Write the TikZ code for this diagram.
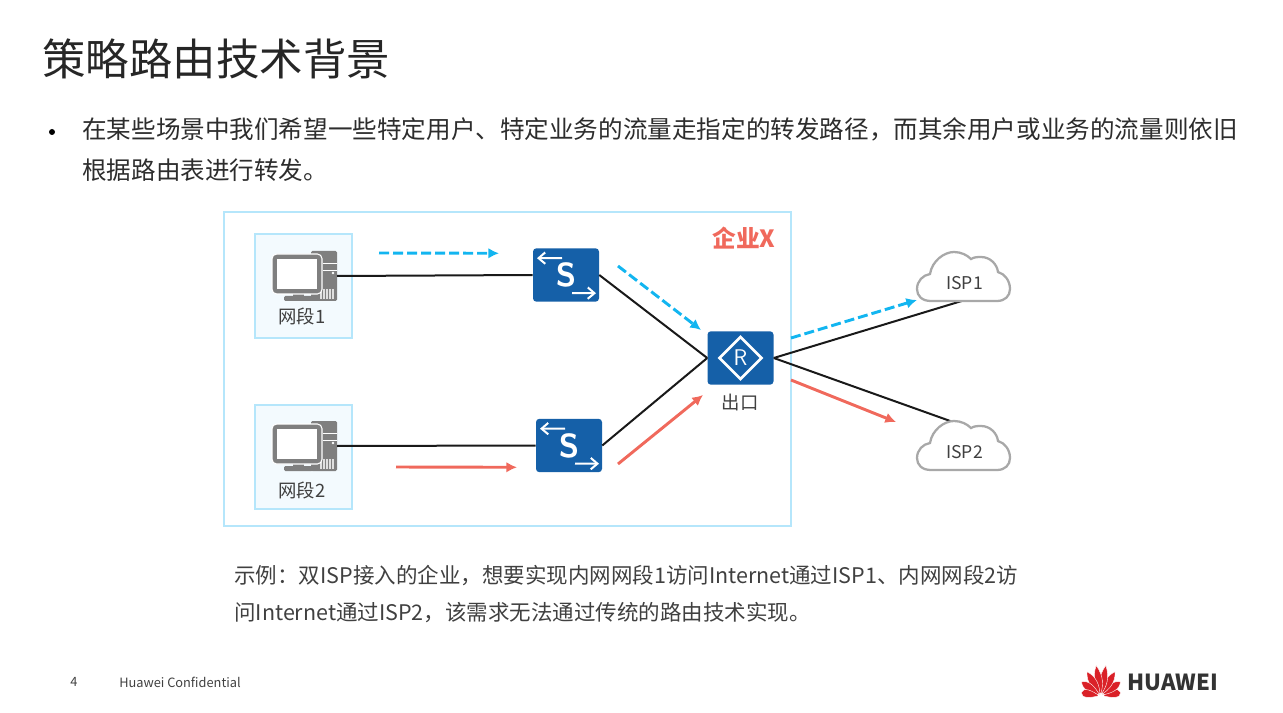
\documentclass[tikz,border=0pt]{standalone}
\usepackage{fontspec}
\setmainfont{Noto Sans CJK SC}
\usetikzlibrary{arrows.meta}
\definecolor{inkgray}{HTML}{404040}
\definecolor{boxblue}{HTML}{B5E6FB}
\definecolor{paleblue}{HTML}{F3FAFE}
\definecolor{devblue}{HTML}{1560A8}
\definecolor{flowblue}{HTML}{12B5F0}
\definecolor{flowred}{HTML}{F0695C}
\definecolor{pcgray}{HTML}{7F7F7F}
\definecolor{cloudgray}{HTML}{A8A8A8}
\definecolor{petalred}{HTML}{DA2128}
\tikzset{
  lbl/.style={text=inkgray,font=\fontsize{13.8}{15}\selectfont,inner sep=0pt},
  zone/.style={draw=boxblue,fill=paleblue,line width=1.1pt,minimum width=72.75pt,minimum height=78pt,inner sep=0pt},
  device/.style={fill=devblue,rounded corners=2.5pt,minimum width=49.5pt,minimum height=40pt,inner sep=0pt,text=white},
  wire/.style={black!90,line width=1.5pt},
  flowa/.style={flowblue,line width=2.2pt,dash pattern=on 7.5pt off 3pt,-{Latex[length=8pt,width=8pt]}},
  flowb/.style={flowred,line width=2.2pt,-{Latex[length=8pt,width=8pt]}},
  whitearrow/.style={white,line width=1.5pt,-{Straight Barb[length=5pt,width=8.5pt]}},
  pc/.pic={
    \fill[pcgray,rounded corners=1pt] (-26,-25) rectangle (0,25);
    \draw[white,line width=0.7pt] (-14,-13) -- (0,-13) (-14,-6) -- (0,-6);
    \fill[white] (-4,-3) circle (1.4);
    \foreach \barx in {-16,-13,-10,-7,-4}
      \draw[white!75!pcgray,line width=0.8pt] (\barx,13) -- (\barx,23);
    \fill[pcgray] (-44,16) rectangle (-33,21);
    \fill[pcgray,rounded corners=1pt] (-53,20) rectangle (-24,25);
    \draw[white,line width=0.8pt,fill=pcgray,rounded corners=3.5pt] (-65,-22) rectangle (-15,18);
    \fill[white] (-60,-17) rectangle (-20,13);
  },
  isp/.pic={
    \draw[cloudgray,line width=1.7pt,fill=white] (-33,24) .. controls (-42,24) and (-47,19) .. (-47,12)
      .. controls (-47,4) and (-41,-2) .. (-34,-3) .. controls (-32,-16) and (-20,-25) .. (-10,-25)
      .. controls (-3,-25) and (3,-22) .. (7,-18) .. controls (10,-20) and (14,-20) .. (17,-20)
      .. controls (26,-20) and (33,-13) .. (34,-5) .. controls (41,-3) and (46,4) .. (46,12)
      .. controls (46,19) and (41,24) .. (33,24) -- cycle;
  }
}
\begin{document}
\begin{tikzpicture}[x=0.75pt,y=-0.75pt,>=Latex]
  \useasboundingbox (0,0) rectangle (1283,713);
  % heading and text
  \node[anchor=west,inner sep=0pt,text=black!85,font=\fontsize{32.6}{36}\selectfont] (title) at (42,59) {策略路由技术背景};
  \node[circle,fill=black,minimum size=4.5pt,inner sep=0pt] (dot) at (52,132) {};
  \node[anchor=north west,inner sep=0pt,align=left,text=inkgray!70!black,font=\fontsize{18.44}{30.75}\selectfont] (intro) at (82,117)
    {在某些场景中我们希望一些特定用户、特定业务的流量走指定的转发路径，而其余用户或业务的流量则依旧\\根据路由表进行转发。};
  \node[anchor=north west,inner sep=0pt,align=left,text=inkgray,font=\fontsize{16.13}{27.75}\selectfont] (note) at (234,565)
    {示例：双ISP接入的企业，想要实现内网网段1访问Internet通过ISP1、内网网段2访\\问Internet通过ISP2，该需求无法通过传统的路由技术实现。};
  % company box
  \node[draw=boxblue,line width=1.1pt,minimum width=425.25pt,minimum height=235.5pt,inner sep=0pt] (corp) at (507.5,369) {};
  \node[text=flowred,inner sep=0pt,font=\fontsize{17.8}{20}\selectfont\bfseries] (corpname) at (744,238) {企业X};
  % the two segments
  \node[zone] (zoneA) at (303.5,286) {};
  \node[zone] (zoneB) at (303.5,456.8) {};
  \node[lbl] (nameA) at (302,316) {网段1};
  \node[lbl] (nameB) at (302,490) {网段2};
  \pic at (337,276) {pc};
  \pic at (337,446) {pc};
  \coordinate (portA) at (337,276);
  \coordinate (portB) at (337,446);
  % devices
  \node[device,font=\fontsize{25}{27}\selectfont\sffamily\bfseries] (swA) at (566,275) {\raisebox{-1.2pt}{S}};
  \node[device,font=\fontsize{25}{27}\selectfont\sffamily\bfseries] (swB) at (569,445.5) {\raisebox{-1.2pt}{S}};
  \node[device,font=\fontsize{17}{19}\selectfont\sffamily] (rtr) at (740.5,358) {R};
  \node[lbl] (exit) at (740,402) {出口};
  \foreach \sw in {swA,swB} {
    \draw[whitearrow,shift={(\sw.center)}] (-4,-17) -- (-29,-16.8);
    \draw[whitearrow,shift={(\sw.center)}] (6,18) -- (30,18.2);
  }
  \draw[white,line width=2pt,shift={(rtr.center)}] (0,-21) -- (21,0) -- (0,21) -- (-21,0) -- cycle;
  % links
  \coordinate (feetA) at (965,300);
  \coordinate (feetB) at (953,422);
  \draw[wire] (portA) -- (swA.west);
  \draw[wire] (portB) -- (swB.west);
  \draw[wire] (swA.east) -- (rtr.west);
  \draw[wire] (swB.east) -- (rtr.west);
  \draw[wire] (rtr.east) -- (feetA);
  \draw[wire] (rtr.east) -- (feetB);
  % clouds
  \pic at (964,277) {isp};
  \pic at (964,446) {isp};
  \node[lbl,font=\fontsize{13.2}{15}\selectfont] (ispA) at (964.5,283) {ISP1};
  \node[lbl,font=\fontsize{13.2}{15}\selectfont] (ispB) at (964.5,452) {ISP2};
  % traffic
  \coordinate (a1) at (379,253); \coordinate (a2) at (499,253.3);
  \coordinate (a3) at (618,266); \coordinate (a4) at (701,330);
  \coordinate (a5) at (791,338); \coordinate (a6) at (917,300);
  \coordinate (b1) at (396,467); \coordinate (b2) at (517,467.3);
  \coordinate (b3) at (618,464); \coordinate (b4) at (703,395);
  \coordinate (b5) at (791,380); \coordinate (b6) at (896,422);
  \draw[flowa] (a1) -- (a2);
  \draw[flowa] (a3) -- (a4);
  \draw[flowa] (a5) -- (a6);
  \draw[flowb] (b1) -- (b2);
  \draw[flowb] (b3) -- (b4);
  \draw[flowb] (b5) -- (b6);
  % footer
  \node[text=inkgray,inner sep=0pt,font=\fontsize{9.6}{11}\selectfont] (page) at (74,682) {4};
  \node[anchor=west,text=inkgray,inner sep=0pt,font=\fontsize{9.6}{11}\selectfont] (conf) at (119,682) {Huawei Confidential};
  \foreach \ang/\len in {-80/20,-54/24,-30/28,-9/31,9/31,30/28,54/24,80/20}
    \filldraw[fill=petalred,draw=white,line width=0.3pt,rotate around={\ang:(1101,696)}] (1101,694) .. controls (1097,686) and (1095,677) .. (1101,696-\len)
      .. controls (1107,677) and (1105,686) .. (1101,694) -- cycle;
  \node[anchor=west,text=black!80,inner sep=0pt,font=\fontsize{16.6}{18}\selectfont\bfseries] (brand) at (1127,682) {HUAWEI};
\end{tikzpicture}
\end{document}
